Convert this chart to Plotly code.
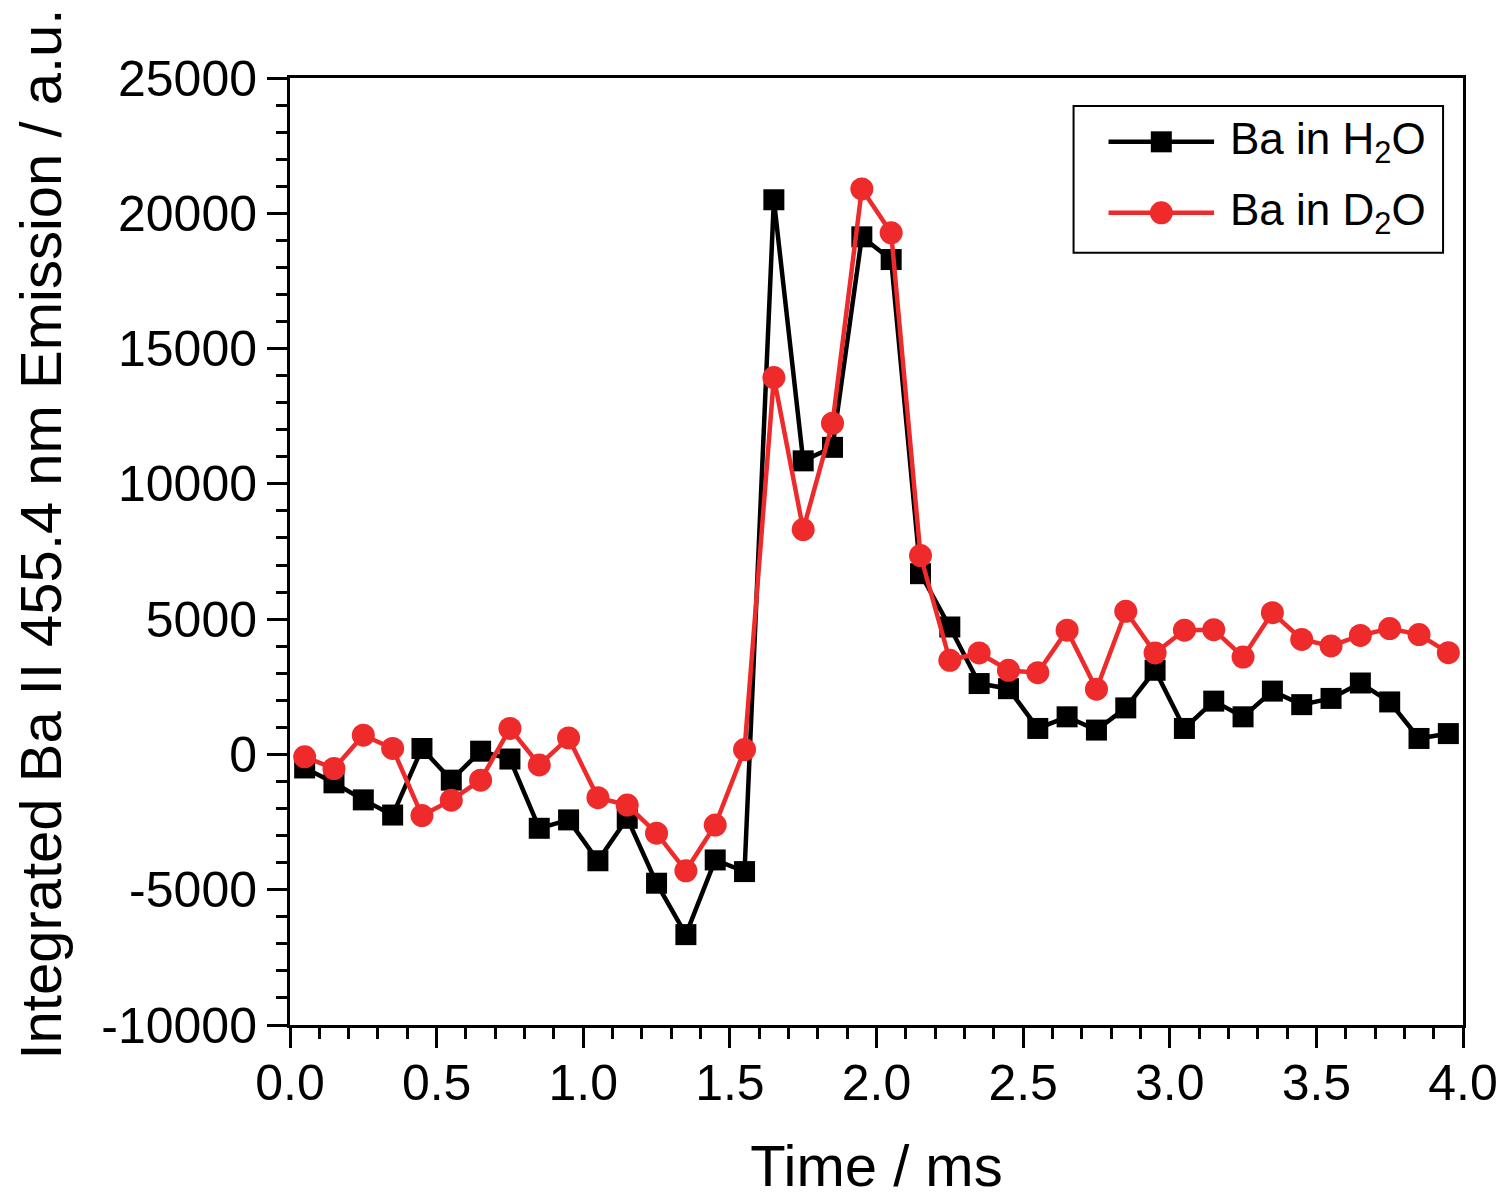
import plotly.graph_objects as go

time_ms = [0.05, 0.15, 0.25, 0.35, 0.45, 0.55, 0.65, 0.75, 0.85, 0.95,
           1.05, 1.15, 1.25, 1.35, 1.45, 1.55, 1.65, 1.75, 1.85, 1.95,
           2.05, 2.15, 2.25, 2.35, 2.45, 2.55, 2.65, 2.75, 2.85, 2.95,
           3.05, 3.15, 3.25, 3.35, 3.45, 3.55, 3.65, 3.75, 3.85, 3.95]

ba_h2o = [-500, -1050, -1680, -2240, 220, -950, 120, -170, -2730, -2420,
          -3930, -2360, -4760, -6660, -3900, -4330, 20500, 10850, 11350, 19130,
          18290, 6680, 4710, 2620, 2430, 960, 1390, 900, 1720, 3110,
          960, 1970, 1390, 2340, 1840, 2070, 2640, 1940, 590, 770]

ba_d2o = [-90, -520, 710, 220, -2260, -1690, -950, 960, -390, 610,
          -1600, -1870, -2910, -4300, -2610, 180, 13930, 8310, 12240, 20900,
          19280, 7350, 3480, 3750, 3110, 3020, 4590, 2410, 5290, 3750,
          4590, 4610, 3600, 5240, 4250, 4010, 4400, 4650, 4430, 3760]

series_names = ["Ba in H<sub>2</sub>O", "Ba in D<sub>2</sub>O"]
series_colors = ["#000000", "#EE2A2B"]

x_ticks = [0.0, 0.5, 1.0, 1.5, 2.0, 2.5, 3.0, 3.5, 4.0]
x_labels = ["0.0", "0.5", "1.0", "1.5", "2.0", "2.5", "3.0", "3.5", "4.0"]
y_ticks = [-10000, -5000, 0, 5000, 10000, 15000, 20000, 25000]
y_labels = ["-10000", "-5000", "0", "5000", "10000", "15000", "20000", "25000"]

x_title = "Time / ms"
y_title = "Integrated Ba II 455.4 nm Emission / a.u."

FONT = "Liberation Sans, Arial, sans-serif"

fig = go.Figure()
fig.add_trace(go.Scatter(
    x=time_ms, y=ba_h2o, mode="lines+markers", name=series_names[0],
    line=dict(color=series_colors[0], width=4.5),
    marker=dict(symbol="square", size=21, color=series_colors[0]),
    showlegend=False,
))
fig.add_trace(go.Scatter(
    x=time_ms, y=ba_d2o, mode="lines+markers", name=series_names[1],
    line=dict(color=series_colors[1], width=4.5),
    marker=dict(symbol="circle", size=23, color=series_colors[1]),
    showlegend=False,
))

axis_common = dict(
    showline=True, linecolor="black", linewidth=3, mirror=True,
    showgrid=False, zeroline=False,
    ticks="outside", ticklen=20, tickwidth=3, tickcolor="black",
    tickfont=dict(family=FONT, size=50, color="black"),
)

fig.update_xaxes(
    range=[0, 4], tickmode="array", tickvals=x_ticks, ticktext=x_labels,
    minor=dict(ticks="outside", ticklen=11, tickwidth=3, tickcolor="black", dtick=0.1),
    ticklabelstandoff=-8,
    title=dict(text=x_title, font=dict(family=FONT, size=58, color="black"), standoff=36),
    **axis_common,
)
fig.update_yaxes(
    range=[-10000, 25000], tickmode="array", tickvals=y_ticks, ticktext=y_labels,
    minor=dict(ticks="outside", ticklen=11, tickwidth=3, tickcolor="black", dtick=1000),
    **axis_common,
)

# Custom legend (box, sample lines, markers, labels) in paper coordinates
shapes = [dict(type="rect", xref="paper", yref="paper",
               x0=0.668, x1=0.983, y0=0.8156, y1=0.9705,
               line=dict(color="black", width=2), fillcolor="white", layer="above")]
annotations = [dict(xref="paper", yref="paper", x=-0.213, y=0.518,
                    xanchor="center", yanchor="middle", showarrow=False,
                    textangle=-90, text=y_title,
                    font=dict(family=FONT, size=58, color="black"))]
row_y = [0.9326, 0.8577]
line_x0, line_x1, mark_x, text_x = 0.6978, 0.7878, 0.7428, 0.7997
for i in range(2):
    half = 10.5 if i == 0 else 11.5
    shapes.append(dict(type="line", xref="paper", yref="paper",
                       x0=line_x0, x1=line_x1, y0=row_y[i], y1=row_y[i],
                       line=dict(color=series_colors[i], width=4.5), layer="above"))
    shapes.append(dict(type="rect" if i == 0 else "circle", xref="paper", yref="paper",
                       xsizemode="pixel", ysizemode="pixel",
                       xanchor=mark_x, yanchor=row_y[i],
                       x0=-half, x1=half, y0=-half, y1=half,
                       line=dict(width=0), fillcolor=series_colors[i], layer="above"))
    annotations.append(dict(xref="paper", yref="paper", x=text_x, y=row_y[i],
                            xanchor="left", yanchor="middle", showarrow=False,
                            text=series_names[i],
                            font=dict(family=FONT, size=44, color="black")))

fig.update_layout(
    width=1510, height=1200,
    margin=dict(l=290, r=42, t=78, b=173),
    paper_bgcolor="white", plot_bgcolor="white",
    showlegend=False,
    shapes=shapes, annotations=annotations,
)

fig.write_html("out.html")
